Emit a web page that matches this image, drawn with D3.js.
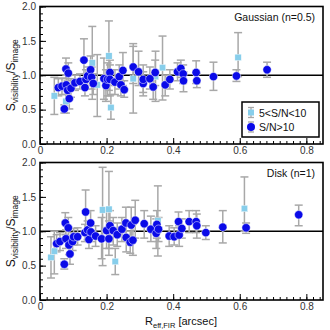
<!DOCTYPE html>
<html><head><meta charset="utf-8">
<script src="https://cdn.jsdelivr.net/npm/d3@7"></script>
<style>body{margin:0;background:#fff}svg{display:block}text{font-family:"Liberation Sans",Arial,sans-serif}</style>
</head><body><svg id="c" width="330" height="330"></svg>
<script>
// Top panel (Gaussian): S/N>10 — [x, y, errLow, errHigh]
const gaussHighX = [.055,.066,.073,.078,.079,.083,.085,.088,.093,.105,.12,.132,.135,.138,.143,.152,.155,.16,.192,.198,.203,.21,.21,.225,.238,.243,.249,.253,.28,.296,.31,.31,.33,.34,.346,.376,.39,.413,.423,.43,.431,.469,.471,.521,.59,.682];
const gaussHighY = [.82,.84,.51,1.09,.86,.78,1.03,.66,.81,.89,.91,1.22,.82,.94,.99,1.08,.97,.88,.95,.85,.94,1.04,.94,.90,.98,.86,1.07,.79,1.12,1.05,.88,.94,.95,.83,1.04,.86,.94,1.05,1.10,1.02,.92,1.04,.92,.98,.99,1.08];
const gaussHighLo = [.70,.72,.45,.95,.72,.65,.88,.51,.68,.78,.80,.92,.70,.80,.85,.90,.80,.72,.65,.62,.70,.85,.70,.72,.80,.70,.85,.68,.88,.85,.70,.75,.80,.65,.85,.70,.80,.92,.97,.88,.76,.88,.82,.78,.91,.97];
const gaussHighHi = [.95,.96,.57,1.25,1.0,.92,1.18,.80,.95,1.0,1.02,1.53,.95,1.08,1.12,1.28,1.12,1.02,1.25,1.08,1.18,1.22,1.15,1.08,1.15,1.02,1.33,.92,1.42,1.35,1.05,1.15,1.12,1.0,1.22,1.0,1.08,1.18,1.22,1.15,1.05,1.21,1.02,1.19,1.08,1.19];
// Top panel: 5<S/N<10
const gaussLowX = [.043,.078,.157,.172,.207,.213,.28,.347,.368,.595];
const gaussLowY = [.70,.62,1.18,.86,1.28,.53,.95,.98,1.11,1.26];
const gaussLowLo = [.43,.45,.65,.40,.78,.36,.45,.62,.64,.98];
const gaussLowHi = [.97,.85,1.71,1.30,1.79,.72,1.46,1.35,1.57,1.62];
// Bottom panel (Disk): S/N>10
const diskHighX = [.05,.06,.073,.076,.078,.085,.087,.09,.098,.101,.113,.137,.135,.143,.147,.152,.153,.167,.185,.2,.207,.21,.22,.232,.246,.258,.259,.271,.274,.279,.286,.313,.333,.349,.351,.356,.388,.403,.416,.418,.426,.448,.469,.471,.498,.549,.619,.777];
const diskHighY = [.82,.85,.52,1.12,.89,1.05,.80,.67,.85,.92,.92,1.28,.98,1.02,.88,1.12,.99,.93,.89,1.01,.89,1.08,1.01,.95,1.03,1.12,.91,.84,1.09,.87,1.16,1.11,1.03,.97,1.10,1.03,.93,.92,1.14,.945,1.04,1.14,1.14,1.08,.98,1.06,1.05,1.24];
const diskHighLo = [.70,.72,.45,.95,.75,.90,.66,.52,.72,.80,.80,.96,.85,.88,.75,.95,.85,.78,.60,.75,.65,.85,.80,.78,.85,.90,.70,.68,.85,.65,.90,.90,.85,.75,.90,.85,.78,.80,.98,.78,.90,.98,.98,.90,.88,.83,.97,1.08];
const diskHighHi = [.95,.98,.60,1.27,1.02,1.20,.93,.80,.98,1.04,1.05,1.60,1.10,1.15,1.01,1.30,1.12,1.08,1.20,1.30,1.15,1.30,1.20,1.12,1.20,1.35,1.12,1.0,1.35,1.10,1.45,1.30,1.22,1.18,1.30,1.20,1.08,1.05,1.28,1.08,1.18,1.30,1.30,1.25,1.08,1.30,1.12,1.38];
// Bottom panel: 5<S/N<10
const diskLowX = [.033,.043,.188,.207,.226,.354,.614];
const diskLowY = [.62,.71,1.31,1.32,.56,1.15,1.33];
const diskLowLo = [.32,.38,.50,.75,.37,.64,1.0];
const diskLowHi = [.92,1.0,1.93,1.87,.75,1.66,1.79];

const xTicks = [0,0.2,0.4,0.6,0.8];
const yTicks = [0,0.5,1.0,1.5,2.0];
const panelLabels = ["Gaussian (n=0.5)","Disk (n=1)"];
const legendLabels = ["5<S/N<10","S/N>10"];

const svg = d3.select("#c");
const L = 40, R = 323;
const x = d3.scaleLinear().domain([0,0.85]).range([L,R]);
const panels = [
  {top:6.5, bot:144, label:panelLabels[0], hi:[gaussHighX,gaussHighY,gaussHighLo,gaussHighHi], lo:[gaussLowX,gaussLowY,gaussLowLo,gaussLowHi], legend:true},
  {top:162.5, bot:300, label:panelLabels[1], hi:[diskHighX,diskHighY,diskHighLo,diskHighHi], lo:[diskLowX,diskLowY,diskLowLo,diskLowHi], legend:false}
];
const blue = "#0a0ae8", light = "#87ceeb", errc = "#a8a8a8";

function rows(a){ return a[0].map((v,i)=>({x:v,y:a[1][i],lo:a[2][i],hi:a[3][i]})); }

panels.forEach(p=>{
  const y = d3.scaleLinear().domain([0,2]).range([p.bot,p.top]);
  const g = svg.append("g");
  g.append("line").attr("x1",L).attr("x2",R).attr("y1",y(1)).attr("y2",y(1)).attr("stroke","#000").attr("stroke-width",1.5);
  const all = rows(p.lo).concat(rows(p.hi));
  const eb = g.append("g").attr("stroke",errc).attr("stroke-width",1.5);
  all.forEach(d=>{
    const cx = x(d.x);
    eb.append("line").attr("x1",cx).attr("x2",cx).attr("y1",y(d.lo)).attr("y2",y(d.hi));
    eb.append("line").attr("x1",cx-4).attr("x2",cx+4).attr("y1",y(d.lo)).attr("y2",y(d.lo));
    eb.append("line").attr("x1",cx-4).attr("x2",cx+4).attr("y1",y(d.hi)).attr("y2",y(d.hi));
  });
  g.selectAll("rect.sq").data(rows(p.lo)).join("rect").attr("class","sq")
    .attr("x",d=>x(d.x)-3.2).attr("y",d=>y(d.y)-3.2).attr("width",6.4).attr("height",6.4)
    .attr("fill",light).attr("stroke","#fff").attr("stroke-width",0.4);
  g.selectAll("circle.pt").data(rows(p.hi)).join("circle").attr("class","pt")
    .attr("cx",d=>x(d.x)).attr("cy",d=>y(d.y)).attr("r",4.2)
    .attr("fill",blue).attr("stroke","#fff").attr("stroke-width",0.5);
  const xa = d3.axisBottom(x).tickValues(d3.range(0,0.851,0.02)).tickSize(-3).tickFormat("");
  g.append("g").attr("transform",`translate(0,${p.bot})`).call(xa).call(s=>{s.select(".domain").remove();s.selectAll("line").attr("stroke","#000");});
  const xb = d3.axisBottom(x).tickValues(xTicks).tickSize(-6).tickPadding(3).tickFormat(d3.format(".1f"));
  g.append("g").attr("transform",`translate(0,${p.bot})`).call(xb).call(s=>{
    s.select(".domain").remove(); s.selectAll("line").attr("stroke","#000");
    s.selectAll("text").attr("font-size",10).attr("fill","#333").text(d=>d===0?"0":d3.format(".1f")(d));
  });
  const ya = d3.axisLeft(y).tickValues(d3.range(0,2.01,0.1)).tickSize(-3).tickFormat("");
  g.append("g").attr("transform",`translate(${L},0)`).call(ya).call(s=>{s.select(".domain").remove();s.selectAll("line").attr("stroke","#000");});
  const yb = d3.axisLeft(y).tickValues(yTicks).tickSize(-6).tickPadding(4).tickFormat(d3.format(".1f"));
  g.append("g").attr("transform",`translate(${L},0)`).call(yb).call(s=>{
    s.select(".domain").remove(); s.selectAll("line").attr("stroke","#000");
    s.selectAll("text").attr("font-size",10).attr("fill","#333");
  });
  g.append("rect").attr("x",L).attr("y",p.top).attr("width",R-L).attr("height",p.bot-p.top)
    .attr("fill","none").attr("stroke","#000").attr("stroke-width",1.6);
  g.append("text").attr("x",R-8).attr("y",p.top+14).attr("text-anchor","end").attr("font-size",10.5).attr("fill","#111").text(p.label);
  const yt = g.append("text").attr("transform",`translate(15,${(p.top+p.bot)/2}) rotate(-90)`).attr("text-anchor","middle").attr("font-size",12).attr("fill","#111");
  yt.append("tspan").text("S");
  yt.append("tspan").attr("font-size",8.5).attr("dy",3).text("visibility");
  yt.append("tspan").attr("dy",-3).text("/S");
  yt.append("tspan").attr("font-size",8.5).attr("dy",3).text("image");
  if(p.legend){
    const lg = g.append("g");
    lg.append("rect").attr("x",242).attr("y",102).attr("width",77).attr("height",35).attr("fill","#fff").attr("stroke","#000").attr("stroke-width",1.5);
    const ex = 251;
    [[0,112.5],[1,127]].forEach(([k,yy])=>{
      lg.append("line").attr("x1",ex).attr("x2",ex).attr("y1",yy-5).attr("y2",yy+5).attr("stroke",errc).attr("stroke-width",1.3);
      lg.append("line").attr("x1",ex-3).attr("x2",ex+3).attr("y1",yy-5).attr("y2",yy-5).attr("stroke",errc).attr("stroke-width",1.3);
      lg.append("line").attr("x1",ex-3).attr("x2",ex+3).attr("y1",yy+5).attr("y2",yy+5).attr("stroke",errc).attr("stroke-width",1.3);
      if(k===0) lg.append("rect").attr("x",ex-3).attr("y",yy-3).attr("width",6).attr("height",6).attr("fill",light);
      else lg.append("circle").attr("cx",ex).attr("cy",yy).attr("r",4).attr("fill",blue);
      lg.append("text").attr("x",259).attr("y",yy+4).attr("font-size",10.5).attr("fill","#111").text(legendLabels[k]);
    });
  }
});
const xt = svg.append("text").attr("x",181).attr("y",325).attr("text-anchor","middle").attr("font-size",11).attr("fill","#111");
xt.append("tspan").text("R");
xt.append("tspan").attr("font-size",7.5).attr("dy",2.5).text("eff,FIR");
xt.append("tspan").attr("dy",-2.5).text(" [arcsec]");
</script></body></html>
